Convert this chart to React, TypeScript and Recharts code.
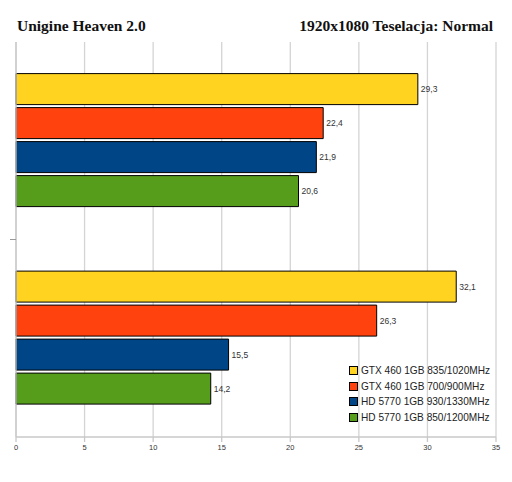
import React from 'react';
import { BarChart, Bar, XAxis, YAxis, CartesianGrid, LabelList } from 'recharts';

const categories = ['A', 'B'];
const seriesNames = [
  'GTX 460 1GB 835/1020MHz',
  'GTX 460 1GB 700/900MHz',
  'HD 5770 1GB 930/1330MHz',
  'HD 5770 1GB 850/1200MHz',
];
const gtx835 = [29.3, 32.1];
const gtx700 = [22.4, 26.3];
const hd930 = [21.9, 15.5];
const hd850 = [20.6, 14.2];
const xTicks = [0, 5, 10, 15, 20, 25, 30, 35];
const colors = ['#FFD320', '#FF420E', '#004586', '#579D1C'];
const keys = ['s0', 's1', 's2', 's3'];

const data = categories.map((c, i) => ({
  name: c,
  s0: gtx835[i],
  s1: gtx700[i],
  s2: hd930[i],
  s3: hd850[i],
}));

const W = 512;
const H = 482;
const M = { top: 42, right: 16, bottom: 25, left: 10 };
const XH = 20;
const PLOT_H = H - M.top - M.bottom - XH;
const BAND = PLOT_H / categories.length;

const fmt = (v: any) => String(v).replace('.', ',');

const YTick = (props: any) => {
  const { x, y, index } = props;
  if (index !== categories.length - 1) {
    return <line x1={x - 6} x2={x} y1={y + BAND / 2} y2={y + BAND / 2} stroke="#999" strokeWidth={1} />;
  }
  return <g />;
};

export default function App() {
  return (
    <div style={{ position: 'absolute', left: 0, top: 0, width: W, height: H, background: '#fff' }}>
      <BarChart
        width={W}
        height={H}
        data={data}
        layout="vertical"
        margin={M}
        barCategoryGap="16%"
        barGap={3}
      >
        <CartesianGrid horizontal={false} stroke="#d4d4d4" strokeWidth={1.3} />
        <XAxis
          type="number"
          domain={[0, 35]}
          ticks={xTicks}
          height={XH}
          axisLine={{ stroke: '#c8c8c8', strokeWidth: 1.3 }}
          tickLine={{ stroke: '#c8c8c8', strokeWidth: 1.3 }}
          tickSize={5}
          tickMargin={3}
          tick={{ fontSize: 7.5, fill: '#333', fontFamily: 'Liberation Sans, Arial, sans-serif' }}
          interval={0}
        />
        <XAxis
          xAxisId="top"
          orientation="top"
          type="number"
          domain={[0, 35]}
          height={0}
          tick={false}
          tickLine={false}
          axisLine={{ stroke: '#c8c8c8', strokeWidth: 1.3 }}
        />
        <YAxis
          type="category"
          dataKey="name"
          width={6}
          tickSize={0}
          tickMargin={0}
          tickLine={false}
          axisLine={{ stroke: '#c8c8c8', strokeWidth: 1.3 }}
          tick={<YTick />}
        />
        {keys.map((k, i) => (
          <Bar key={k} dataKey={k} name={seriesNames[i]} fill={colors[i]} stroke="#000" strokeWidth={1} isAnimationActive={false}>
            <LabelList
              dataKey={k}
              position="right"
              offset={3}
              formatter={fmt}
              style={{ fontSize: 8.5, fill: '#333', fontFamily: 'Liberation Sans, Arial, sans-serif' }}
            />
          </Bar>
        ))}
      </BarChart>
      <div
        style={{
          position: 'absolute',
          left: 17,
          top: 17,
          fontFamily: 'Liberation Serif, Times New Roman, serif',
          fontWeight: 'bold',
          fontSize: 15.5,
          color: '#111',
          whiteSpace: 'nowrap',
        }}
      >
        Unigine Heaven 2.0
      </div>
      <div
        style={{
          position: 'absolute',
          right: 19,
          top: 17,
          fontFamily: 'Liberation Serif, Times New Roman, serif',
          fontWeight: 'bold',
          fontSize: 15.5,
          color: '#111',
          whiteSpace: 'nowrap',
        }}
      >
        1920x1080 Teselacja: Normal
      </div>
      <div style={{ position: 'absolute', left: 349, top: 363 }}>
        {seriesNames.map((n, i) => (
          <div
            key={n}
            style={{
              display: 'flex',
              alignItems: 'center',
              height: 15.6,
              fontFamily: 'Liberation Sans, Arial, sans-serif',
              fontSize: 10.1,
              color: '#222',
              whiteSpace: 'nowrap',
            }}
          >
            <span
              style={{
                display: 'inline-block',
                width: 7,
                height: 7,
                background: colors[i],
                border: '1px solid #000',
                marginRight: 3,
              }}
            />
            {n}
          </div>
        ))}
      </div>
    </div>
  );
}
